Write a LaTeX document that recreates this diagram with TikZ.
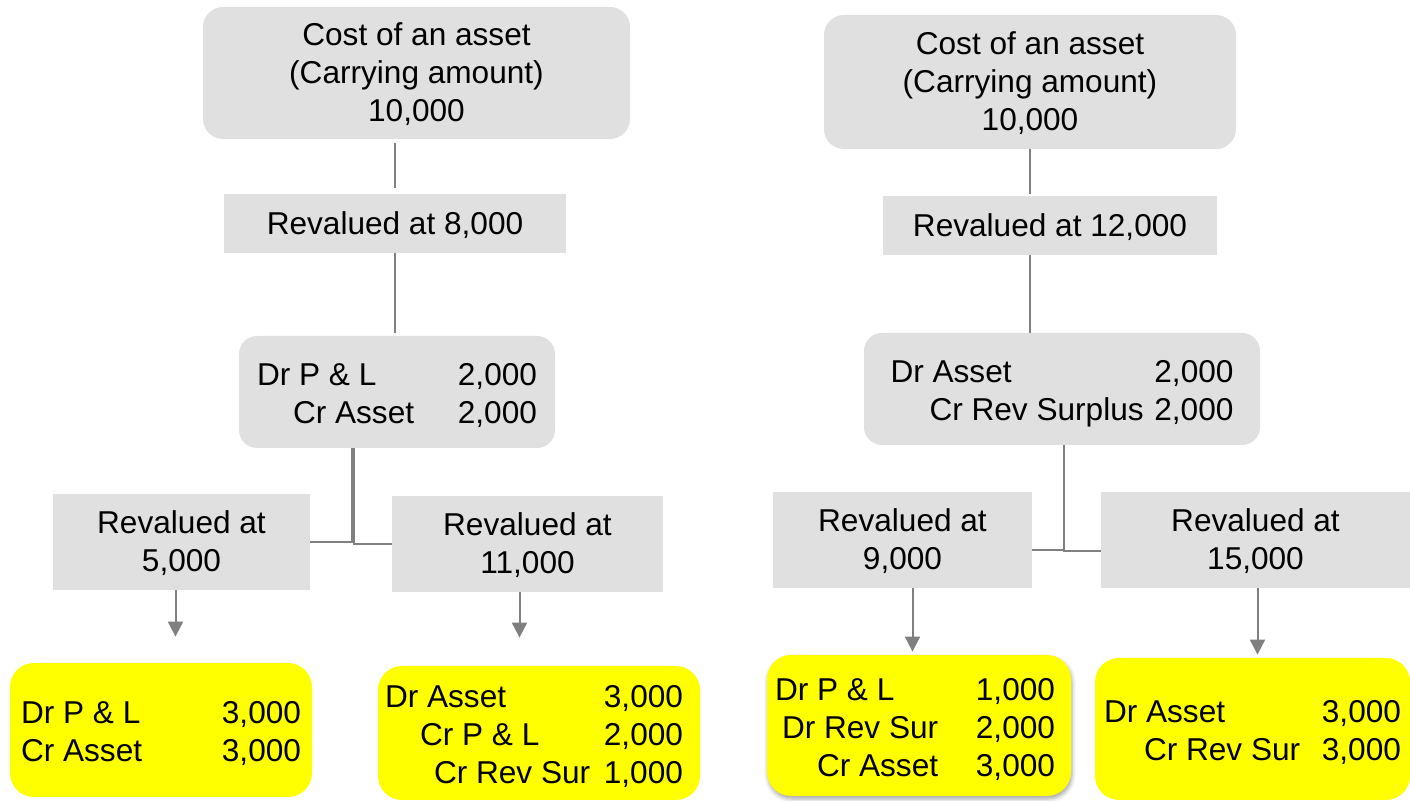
\documentclass[tikz,border=0pt]{standalone}
\usepackage{fontspec}
\setmainfont{Liberation Sans}
\usepackage{tikz}
\usetikzlibrary{arrows.meta, calc, shadows.blur}
\definecolor{boxgray}{HTML}{E0E0E0}
\definecolor{linegray}{HTML}{808080}
\definecolor{postit}{HTML}{FFFF00}
\newcommand{\boxfont}{\fontsize{15.8}{19}\selectfont}
% centred lines, set a bit low in the box
\newcommand{\boxlines}[1]{\raisebox{-1.5pt}[\height][\depth]{\begin{tabular}{@{}c@{}}#1\end{tabular}}}
% journal entry: width, rows
\newcommand{\entries}[2]{\raisebox{-2.5pt}[\height][\depth]{\begin{tabular*}{#1}{@{}l@{\extracolsep{\fill}\ }r@{}}#2\end{tabular*}}}
\tikzset{
  costbox/.style={
    rectangle, rounded corners=10pt, inner sep=0pt,
    fill=boxgray, font=\boxfont
  },
  revbox/.style={
    rectangle, inner sep=0pt,
    fill=boxgray, font=\boxfont
  },
  entrybox/.style={
    rectangle, rounded corners=9pt, inner sep=0pt,
    fill=boxgray, font=\boxfont
  },
  resultbox/.style={
    rectangle, rounded corners=12pt, inner sep=0pt,
    fill=postit, font=\boxfont
  },
  link/.style={
    line width=1pt, color=linegray
  },
  arrow/.style={
    -{Triangle[width=7.5pt,length=7.5pt]}, line width=1pt, color=linegray
  }
}

\begin{document}
\begin{tikzpicture}[x=0.5pt, y=-0.5pt]
\useasboundingbox (0,0) rectangle (1410,801);

% Revaluation downwards
\node[costbox, minimum width=213.5pt, minimum height=66pt] (cost1) at (416.5,73) {\boxlines{Cost of an asset\\(Carrying amount)\\10,000}};
\node[revbox, minimum width=171pt, minimum height=29.5pt] (rev1) at (395,223.5) {\boxlines{Revalued at 8,000}};
\node[entrybox, minimum width=158pt, minimum height=56pt] (je1) at (397,392) {\entries{140pt}{Dr P \& L & 2,000\\ \hspace{18pt}Cr Asset & 2,000}};
\node[revbox, minimum width=128.5pt, minimum height=48pt] (rv5) at (181.5,542) {\boxlines{Revalued at\\5,000}};
\node[revbox, minimum width=135.5pt, minimum height=48pt] (rv11) at (527.5,544) {\boxlines{Revalued at\\11,000}};
\node[resultbox, minimum width=151pt, minimum height=67pt] (res1) at (161,730) {\entries{140pt}{Dr P \& L & 3,000\\ Cr Asset & 3,000}};
\node[resultbox, minimum width=161pt, minimum height=67pt] (res2) at (539,733) {\hspace{-5pt}\entries{149pt}{Dr Asset & 3,000\\ \hspace{17.5pt}Cr P \& L & 2,000\\ \hspace{24.5pt}Cr Rev Sur & 1,000}};

\draw[link, shorten <=2pt, shorten >=3pt] (rev1.north |- cost1.south) -- (rev1.north);
\draw[link, shorten >=1.5pt] (rev1.south) -- (rev1.south |- je1.north);
\draw[link] ([xshift=-22.5pt]je1.south) |- (rv5.east);
\draw[link] ([xshift=-21.5pt]je1.south) |- (rv11.west);
\draw[arrow, shorten >=13pt] ([xshift=-3pt]rv5.south) -- ([xshift=-3pt]rv5.south |- res1.north);
\draw[arrow, shorten >=14pt] ([xshift=-4pt]rv11.south) -- ([xshift=-4pt]rv11.south |- res2.north);

% Revaluation upwards
\node[costbox, minimum width=206pt, minimum height=67pt] (cost2) at (1030,82) {\boxlines{Cost of an asset\\(Carrying amount)\\10,000}};
\node[revbox, minimum width=167pt, minimum height=29.5pt] (rev12) at (1050,225.5) {\boxlines{Revalued at 12,000}};
\node[entrybox, minimum width=198pt, minimum height=56pt] (je2) at (1062,389) {\entries{171.5pt}{Dr Asset & 2,000\\ \hspace{19.5pt}Cr Rev Surplus & 2,000}};
\node[revbox, minimum width=129.5pt, minimum height=48pt] (rv9) at (902.5,540) {\boxlines{Revalued at\\9,000}};
\node[revbox, minimum width=154.5pt, minimum height=48pt] (rv15) at (1255.5,540) {\boxlines{Revalued at\\15,000}};
\node[resultbox, minimum width=152pt, minimum height=70.5pt,
  blur shadow={shadow xshift=0.5pt, shadow yshift=-1.5pt, shadow blur radius=2pt, shadow opacity=35}] (res3) at (919,725.5) {\hspace{-4pt}\entries{140pt}{Dr P \& L & 1,000\\ \hspace{3.5pt}Dr Rev Sur & 2,000\\ \hspace{21pt}Cr Asset & 3,000}};
\node[resultbox, minimum width=157.5pt, minimum height=71pt] (res4) at (1252.5,729) {\entries{148.5pt}{Dr Asset & 3,000\\ \hspace{20pt}Cr Rev Sur & 3,000}};

\draw[link, shorten >=1pt] (cost2.south) -- (cost2.south |- rev12.north);
\draw[link] ([xshift=-10pt]rev12.south) -- ([xshift=-10pt]rev12.south |- je2.north);
\draw[link] ([xshift=1pt]je2.south) |- ([yshift=-5pt]rv9.east);
\draw[link] ([xshift=1pt]je2.south) |- ([yshift=-5.5pt]rv15.west);
\draw[arrow, shorten >=1.5pt] ([xshift=5pt]rv9.south) -- ([xshift=5pt]rv9.south |- res3.north);
\draw[arrow, shorten >=1.5pt] ([xshift=1pt]rv15.south) -- ([xshift=1pt]rv15.south |- res4.north);

\end{tikzpicture}
\end{document}
